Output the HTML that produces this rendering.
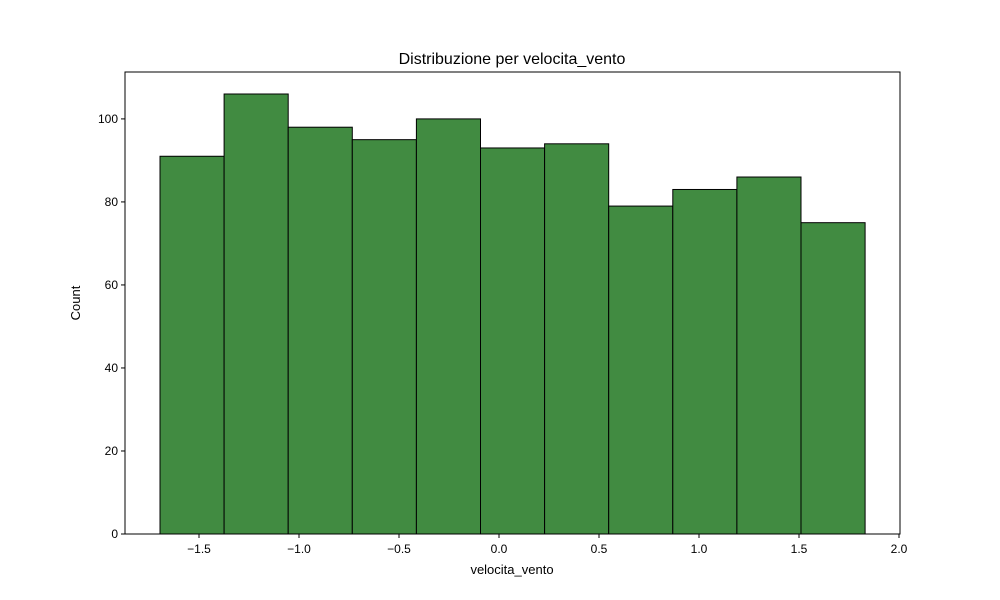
<!DOCTYPE html>
<html><head><meta charset="utf-8"><style>
body{margin:0;background:#fff;}
svg{display:block;font-family:"Liberation Sans","DejaVu Sans",sans-serif;}
</style></head><body>
<svg id="chart" width="1000" height="600">
<rect width="1000" height="600" fill="#fff"/>
<text x="512" y="64" font-size="16" text-anchor="middle">Distribuzione per velocita_vento</text>
<text x="512" y="574" font-size="13" text-anchor="middle">velocita_vento</text>
<text x="80" y="303" font-size="13" text-anchor="middle" transform="rotate(-90 80 303)">Count</text>
<g id="bars"></g>
<g id="xticks"></g>
<g id="yticks"></g>
<rect x="125" y="72" width="775" height="462" fill="none" stroke="#000" stroke-width="1"/>
</svg>
<script>
const binStart = -1.695;
const binWidth = 0.3205;
const counts = [91,106,98,95,100,93,94,79,83,86,75];
const xTicks = [-1.5,-1.0,-0.5,0.0,0.5,1.0,1.5,2.0];
const xTickLabels = ["\u22121.5","\u22121.0","\u22120.5","0.0","0.5","1.0","1.5","2.0"];
const yTicks = [0,20,40,60,80,100];

const L=125,R=900,T=72,B=534;
const xMin=-1.87,xMax=2.005,yMax=111.3;
const xs=v=>L+(v-xMin)/(xMax-xMin)*(R-L);
const ys=v=>B-v/yMax*(B-T);
const NS="http://www.w3.org/2000/svg";
const bars=document.getElementById('bars');
counts.forEach((c,i)=>{
  const x0=xs(binStart+i*binWidth),x1=xs(binStart+(i+1)*binWidth);
  const r=document.createElementNS(NS,'rect');
  r.setAttribute('x',x0);r.setAttribute('y',ys(c));
  r.setAttribute('width',x1-x0);r.setAttribute('height',ys(0)-ys(c));
  r.setAttribute('fill','#418b41');r.setAttribute('stroke','#000');r.setAttribute('stroke-width','1');
  
  
  bars.appendChild(r);
});
const xt=document.getElementById('xticks');
xTicks.forEach((v,i)=>{
  const x=xs(v);
  const l=document.createElementNS(NS,'line');
  l.setAttribute('x1',x);l.setAttribute('x2',x);l.setAttribute('y1',B);l.setAttribute('y2',B+4);l.setAttribute('stroke','#000');
  
  
  xt.appendChild(l);
  const t=document.createElementNS(NS,'text');
  t.setAttribute('x',x);t.setAttribute('y',B+19);t.setAttribute('font-size','12');t.setAttribute('text-anchor','middle');
  t.textContent=xTickLabels[i];
  
  
  xt.appendChild(t);
});
const yt=document.getElementById('yticks');
yTicks.forEach(v=>{
  const y=ys(v);
  const l=document.createElementNS(NS,'line');
  l.setAttribute('x1',L-4);l.setAttribute('x2',L);l.setAttribute('y1',y);l.setAttribute('y2',y);l.setAttribute('stroke','#000');
  
  
  yt.appendChild(l);
  const t=document.createElementNS(NS,'text');
  t.setAttribute('x',L-7);t.setAttribute('y',y+4);t.setAttribute('font-size','12');t.setAttribute('text-anchor','end');
  t.textContent=String(v);
  
  
  yt.appendChild(t);
});
</script>
</body></html>
